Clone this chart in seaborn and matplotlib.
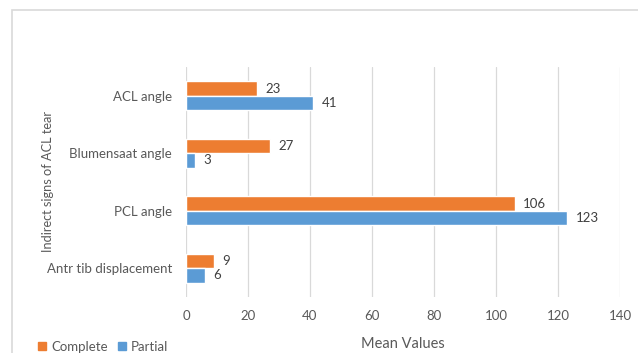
import matplotlib
matplotlib.use("Agg")
import matplotlib.pyplot as plt
import seaborn as sns
import pandas as pd
from matplotlib.patches import Rectangle
from matplotlib.lines import Line2D

categories = ["ACL angle", "Blumensaat angle", "PCL angle", "Antr tib displacement"]
complete = [23, 27, 106, 9]
partial = [41, 3, 123, 6]
series = ["Complete", "Partial"]
colors = ["#ED7D31", "#5B9BD5"]
xticks = [0, 20, 40, 60, 80, 100, 120, 140]

df = pd.DataFrame({
    "sign": categories * 2,
    "value": complete + partial,
    "group": ["Complete"] * len(categories) + ["Partial"] * len(categories),
})

sns.set_style("white")
plt.rcParams["font.family"] = ["Lato", "DejaVu Sans"]

fig = plt.figure(figsize=(6.38, 3.53), dpi=100)
ax = fig.add_axes([186 / 638, 1 - 297 / 353, 434 / 638, 230 / 353])

sns.barplot(data=df, x="value", y="sign", hue="group", order=categories,
            hue_order=series, palette=colors, orient="h", width=0.5,
            saturation=1, ax=ax, legend=False, zorder=3)

for cont in ax.containers:
    ax.bar_label(cont, padding=6, fontsize=9.5, color="#404040")

ax.set_xlim(0, 140)
ax.set_xticks(xticks)
ax.set_ylim(3.5, -0.5)
ax.grid(axis="x", color="#d9d9d9", linewidth=0.9, zorder=0)
ax.grid(axis="y", visible=False)
for s in ax.spines.values():
    s.set_visible(False)
ax.tick_params(axis="both", length=0, labelsize=9.5, labelcolor="#595959")
ax.tick_params(axis="y", pad=10)
ax.tick_params(axis="x", pad=9)
ax.set_xlabel("Mean Values", fontsize=10.5, color="#595959", labelpad=11)
ax.set_ylabel("Indirect signs of ACL tear", fontsize=9.2, color="#595959")
ax.yaxis.set_label_coords(-(186 - 54) / 434, 0.5)

# chart border
fig.patches.append(Rectangle((12 / 638, -0.1), 1.2, 1 - 10 / 353 + 0.1,
                             transform=fig.transFigure, fill=False,
                             edgecolor="#d9d9d9", linewidth=1.2))

handles = [Line2D([0], [0], marker="s", linestyle="none", markersize=5.5,
                  markerfacecolor=c, markeredgecolor=c) for c in colors]
fig.legend(handles, series, loc="lower left", bbox_to_anchor=(38 / 638, 0.0),
           ncol=2, frameon=False, fontsize=9.5, handletextpad=0.4,
           handlelength=0.6, columnspacing=0.75, borderpad=0.0,
           borderaxespad=0.0, labelcolor="#595959")

fig.savefig("out.png", dpi=100)
